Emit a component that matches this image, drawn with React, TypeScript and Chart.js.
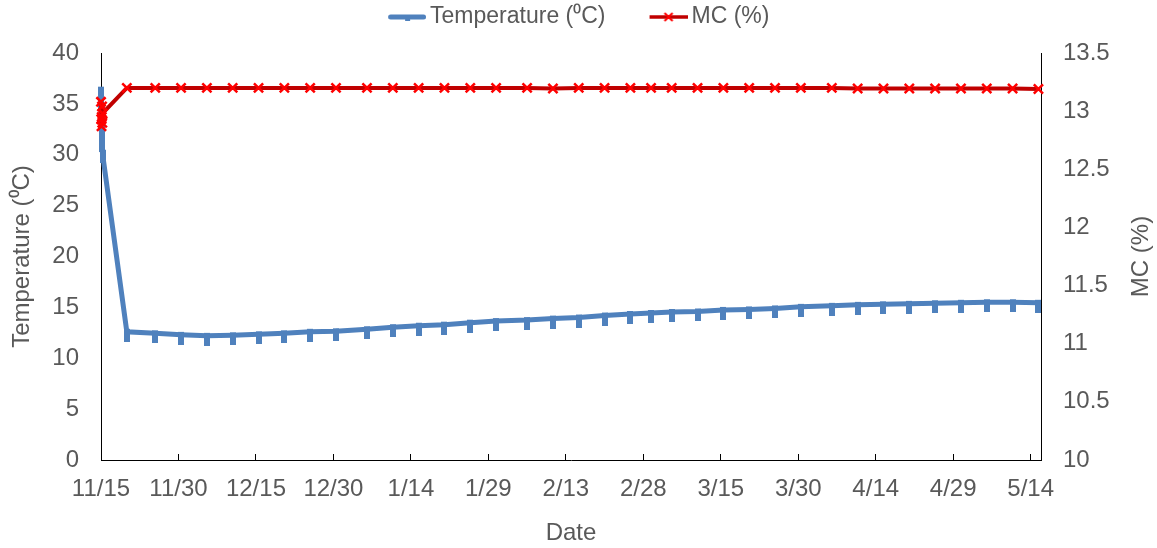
import React, { useEffect, useRef } from 'react';
import { Chart, registerables } from 'chart.js';

Chart.register(...registerables);

// Days since 11/15 for each reading
const dayOffsets = [
  0, 0.05, 0.1, 0.15, 0.2, 0.25, 0.3,
  5, 10.5, 15.5, 20.5, 25.5, 30.5, 35.5, 40.5, 45.5,
  51.5, 56.5, 61.5, 66.5, 71.5, 76.5,
  82.5, 87.5, 92.5, 97.5, 102.5, 106.5, 110.5,
  115.5, 120.5, 125.5, 130.5, 135.5,
  141.5, 146.5, 151.5, 156.5, 161.5, 166.5, 171.5, 176.5, 181.5,
];

const temperature = [
  36.4, 35.5, 34.5, 33.5, 32.5, 31.3, 30.2,
  12.6, 12.45, 12.3, 12.2, 12.25, 12.35, 12.45, 12.6, 12.65,
  12.85, 13.05, 13.2, 13.3, 13.5, 13.65,
  13.75, 13.9, 14.0, 14.2, 14.35, 14.45, 14.55,
  14.6, 14.75, 14.8, 14.9, 15.05,
  15.15, 15.25, 15.3, 15.35, 15.4, 15.45, 15.5, 15.5, 15.45,
];

const moistureContent = [
  13.08, 12.93, 12.87, 12.95, 13.04, 12.9, 12.98,
  13.2, 13.2, 13.2, 13.2, 13.2, 13.2, 13.2, 13.2, 13.2,
  13.2, 13.2, 13.2, 13.2, 13.2, 13.2,
  13.2, 13.195, 13.2, 13.2, 13.2, 13.2, 13.2,
  13.2, 13.2, 13.2, 13.2, 13.2,
  13.2, 13.195, 13.195, 13.195, 13.195, 13.195, 13.195, 13.195, 13.19,
];

const xTickLabels = ['11/15', '11/30', '12/15', '12/30', '1/14', '1/29', '2/13', '2/28', '3/15', '3/30', '4/14', '4/29', '5/14'];
const tickStepDays = 15;
const seriesNames = ['Temperature (\u2070C)', 'MC (%)'];
const axisTitles = { x: 'Date', yLeft: 'Temperature (\u2070C)', yRight: 'MC (%)' };

const FONT = "'Liberation Sans', Arial, sans-serif";
const TEXT = '#595959';
const BLUE = '#4F81BD';
const DARKRED = '#C00000';
const RED = '#FF0000';

function makeTempMarker(): HTMLCanvasElement {
  const c = document.createElement('canvas');
  c.width = 6;
  c.height = 20;
  const g = c.getContext('2d')!;
  g.fillStyle = BLUE;
  g.fillRect(0, 7, 6, 13);
  return c;
}

function makeLegendImage(kind: 'temp' | 'mc'): HTMLCanvasElement {
  const c = document.createElement('canvas');
  c.width = 46;
  c.height = 14;
  const g = c.getContext('2d')!;
  const x0 = 8;
  const x1 = 46;
  const cy = 7;
  if (kind === 'temp') {
    g.strokeStyle = BLUE;
    g.lineWidth = 5;
    g.lineCap = 'round';
    g.beginPath();
    g.moveTo(x0 + 2.5, cy);
    g.lineTo(x1 - 2.5, cy);
    g.stroke();
    g.fillStyle = BLUE;
    g.fillRect(25, cy - 2, 5, 6);
  } else {
    g.strokeStyle = DARKRED;
    g.lineWidth = 3.5;
    g.beginPath();
    g.moveTo(x0, cy);
    g.lineTo(x1, cy);
    g.stroke();
    g.strokeStyle = RED;
    g.lineWidth = 2;
    const mx = 27;
    g.beginPath();
    g.moveTo(mx - 4, cy - 4);
    g.lineTo(mx + 4, cy + 4);
    g.moveTo(mx + 4, cy - 4);
    g.lineTo(mx - 4, cy + 4);
    g.stroke();
  }
  return c;
}

const rightTitlePlugin = {
  id: 'rightTitle',
  afterDraw(chart: any) {
    const s = chart.scales.y1;
    const { ctx, chartArea } = chart;
    ctx.save();
    ctx.font = `24px ${FONT}`;
    ctx.fillStyle = TEXT;
    ctx.textAlign = 'center';
    ctx.textBaseline = 'middle';
    ctx.translate(s.right - 16, (chartArea.top + chartArea.bottom) / 2);
    ctx.rotate(-Math.PI / 2);
    ctx.fillText(axisTitles.yRight, 0, 0);
    ctx.restore();
  },
};

export default function App() {
  const canvasRef = useRef<HTMLCanvasElement | null>(null);

  useEffect(() => {
    if (!canvasRef.current) return;
    const tempMarker = makeTempMarker();
    const tempLegend = makeLegendImage('temp');
    const mcLegend = makeLegendImage('mc');

    const tempPoints = dayOffsets.map((d, i) => ({ x: d, y: temperature[i] }));
    const mcPoints = dayOffsets.map((d, i) => ({ x: d, y: moistureContent[i] }));

    const chart = new Chart(canvasRef.current, {
      type: 'line',
      data: {
        datasets: [
          {
            label: seriesNames[0],
            data: tempPoints,
            xAxisID: 'x',
            yAxisID: 'y',
            borderColor: BLUE,
            backgroundColor: BLUE,
            borderWidth: 5,
            tension: 0,
            pointStyle: tempMarker as any,
            pointRadius: 5,
            clip: false as any,
            order: 2,
          },
          {
            label: seriesNames[1],
            data: mcPoints,
            xAxisID: 'x',
            yAxisID: 'y1',
            borderColor: DARKRED,
            backgroundColor: RED,
            borderWidth: 4,
            tension: 0,
            pointStyle: 'crossRot',
            pointRadius: 6.5,
            pointBorderWidth: 2.5,
            pointBorderColor: RED,
            clip: false as any,
            order: 1,
          },
        ],
      },
      options: {
        animation: false,
        responsive: true,
        maintainAspectRatio: false,
        layout: { padding: { top: -38, left: 0, right: 0, bottom: 0 } },
        plugins: {
          tooltip: { enabled: false },
          legend: {
            position: 'top',
            align: 'center',
            labels: {
              usePointStyle: true,
              pointStyleWidth: 31,
              padding: 43.5,
              color: TEXT,
              font: { family: FONT, size: 23 },
              generateLabels: () => [
                {
                  text: seriesNames[0],
                  pointStyle: tempLegend as any,
                  fillStyle: BLUE,
                  strokeStyle: BLUE,
                  lineWidth: 0,
                  hidden: false,
                  datasetIndex: 0,
                  fontColor: TEXT,
                },
                {
                  text: seriesNames[1],
                  pointStyle: mcLegend as any,
                  fillStyle: RED,
                  strokeStyle: RED,
                  lineWidth: 0,
                  hidden: false,
                  datasetIndex: 1,
                  fontColor: TEXT,
                },
              ],
            },
          },
        },
        scales: {
          x: {
            type: 'linear',
            position: 'bottom',
            min: 0,
            max: 182,
            ticks: {
              stepSize: tickStepDays,
              includeBounds: false,
              autoSkip: false,
              maxRotation: 0,
              padding: 20.6,
              color: TEXT,
              font: { family: FONT, size: 24 },
              callback: (v: any) => xTickLabels[Math.round(Number(v) / tickStepDays)] ?? '',
            },
            grid: {
              display: true,
              drawOnChartArea: false,
              drawTicks: true,
              tickLength: -6,
              color: '#000',
              lineWidth: 1,
            },
            border: { display: true, color: '#000', width: 1 },
            title: {
              display: true,
              text: axisTitles.x,
              color: TEXT,
              font: { family: FONT, size: 24 },
              padding: { top: 0, bottom: 0 },
            },
            afterFit: (s: any) => {
              s.height = 88;
            },
          },
          xTop: {
            type: 'linear',
            position: 'top',
            display: true,
            grid: { display: false, drawTicks: false },
            ticks: { display: false },
            border: { display: false },
            afterFit: (s: any) => {
              s.height = 14.5;
            },
          },
          y: {
            type: 'linear',
            position: 'left',
            min: 0,
            max: 40,
            ticks: {
              stepSize: 5,
              padding: 22,
              color: TEXT,
              font: { family: FONT, size: 24 },
              callback: (v: any) => String(Number(v)),
            },
            grid: { display: false, drawTicks: false },
            border: { display: true, color: '#000', width: 1 },
            title: {
              display: true,
              text: axisTitles.yLeft,
              color: TEXT,
              font: { family: FONT, size: 24 },
              padding: { top: 8, bottom: 0 },
            },
            afterFit: (s: any) => {
              s.width = 101;
            },
          },
          y1: {
            type: 'linear',
            position: 'right',
            min: 10,
            max: 13.5,
            ticks: {
              stepSize: 0.5,
              padding: 22,
              color: TEXT,
              font: { family: FONT, size: 24 },
              callback: (v: any) => String(Math.round(Number(v) * 10) / 10),
            },
            grid: { display: false, drawTicks: false },
            border: { display: true, color: '#000', width: 1 },
            title: { display: false },
            afterFit: (s: any) => {
              s.width = 116;
            },
          },
        },
      },
      plugins: [rightTitlePlugin],
    } as any);

    return () => chart.destroy();
  }, []);

  return (
    <div style={{ position: 'fixed', left: 0, top: 0, width: 1157, height: 548, background: '#fff' }}>
      <canvas ref={canvasRef} />
    </div>
  );
}
